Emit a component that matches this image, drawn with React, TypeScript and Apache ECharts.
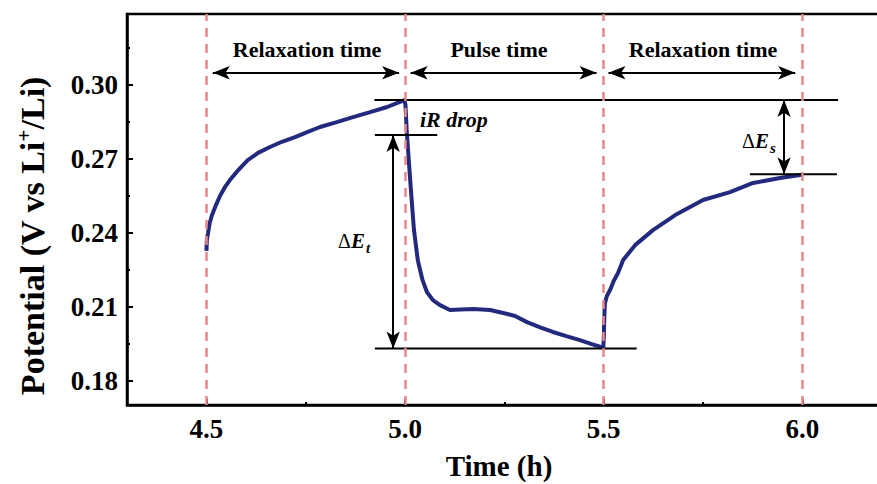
import { useEffect, useRef } from 'react';
import * as echarts from 'echarts';

// Measured curve (time in h, potential in V vs Li+/Li)
const timeH = [
  4.5, 4.501, 4.504, 4.508, 4.514, 4.523, 4.534, 4.546, 4.559, 4.58, 4.604, 4.63, 4.66, 4.69, 4.723, 4.755,
  4.786, 4.828, 4.869, 4.912, 4.955, 4.987, 4.998,
  5.001, 5.004, 5.01, 5.0166, 5.0224, 5.032, 5.044, 5.055, 5.07, 5.088, 5.113, 5.14, 5.171, 5.214, 5.247,
  5.277, 5.307, 5.34, 5.372, 5.406, 5.44, 5.47, 5.499,
  5.5005, 5.501, 5.503, 5.508, 5.516, 5.525, 5.536, 5.549, 5.579, 5.624, 5.68, 5.75, 5.818, 5.876, 5.944,
  5.994, 6.0,
];
const potentialV = [
  0.2328, 0.2372, 0.24, 0.244, 0.2473, 0.251, 0.255, 0.2585, 0.2615, 0.2655, 0.2696, 0.2725, 0.2749, 0.277,
  0.2789, 0.281, 0.283, 0.285, 0.287, 0.289, 0.2911, 0.2932, 0.2939,
  0.292, 0.2818, 0.268, 0.2534, 0.2412, 0.229, 0.2209, 0.2161, 0.2128, 0.2108, 0.2088, 0.209, 0.2092, 0.2088,
  0.2076, 0.2064, 0.2039, 0.2018, 0.1999, 0.1982, 0.1966, 0.195, 0.1935,
  0.1986, 0.2035, 0.2115, 0.2145, 0.2169, 0.2205, 0.2238, 0.2291, 0.2351, 0.2412, 0.2473, 0.2534, 0.2566,
  0.2603, 0.2623, 0.2635, 0.2637,
];

const boundaryTimes = [4.5, 5.0, 5.5, 6.0];
const xTickValues = [4.5, 5.0, 5.5, 6.0];
const xMinorTicks = [4.75, 5.25, 5.75, 6.25];
const yTickValues = [0.18, 0.21, 0.24, 0.27, 0.3];
const yMinorTicks = [0.195, 0.225, 0.255, 0.285, 0.315];

// Horizontal reference lines: level, start, end
const refLevel = [0.2939, 0.2797, 0.1932, 0.2638];
const refStart = [4.923, 4.924, 4.924, 5.868];
const refEnd = [6.09, 5.081, 5.583, 6.087];

// Double arrows: [x, y] start / end
const arrowFrom = [
  [4.516, 0.305],
  [5.014, 0.305],
  [5.512, 0.305],
  [4.97, 0.2797],
  [5.954, 0.2939],
];
const arrowTo = [
  [4.985, 0.305],
  [5.482, 0.305],
  [5.982, 0.305],
  [4.97, 0.1932],
  [5.954, 0.2638],
];

const SERIF = "'Liberation Serif', 'Times New Roman', serif";

export default function App() {
  const ref = useRef<HTMLDivElement>(null);
  useEffect(() => {
    document.body.style.margin = '0';
    const chart = echarts.init(ref.current!, null, { renderer: 'svg' });
    const xMin = 4.3;
    const xMax = 6.3;
    const yMin = 0.1703;
    const yMax = 0.3288;

    const refSeries = refLevel.map((lv, i) => ({
      type: 'line',
      xAxisIndex: 0,
      yAxisIndex: 0,
      data: [
        [refStart[i], lv],
        [refEnd[i], lv],
      ],
      showSymbol: false,
      symbol: 'none',
      lineStyle: { color: '#000', width: 2 },
      z: 3,
      silent: true,
    }));

    const labelFont = { color: '#000', fontFamily: SERIF, fontWeight: 'bold' as const, fontSize: 27 };

    chart.setOption({
      animation: false,
      grid: {
        left: 127,
        top: 14,
        right: -44.5,
        bottom: 79,
        show: true,
        borderColor: '#000',
        borderWidth: 2.5,
        outerBoundsMode: 'none',
        containLabel: false,
      },
      xAxis: [
        {
          type: 'value',
          min: xMin,
          max: xMax,
          position: 'bottom',
          splitLine: { show: false },
          axisLine: { show: true, onZero: false, lineStyle: { color: '#000', width: 2.5 } },
          axisTick: {
            show: true,
            inside: true,
            length: 6,
            customValues: xTickValues,
            lineStyle: { color: '#000', width: 2 },
          },
          axisLabel: {
            show: true,
            customValues: xTickValues,
            formatter: (v: number) => v.toFixed(1),
            margin: 10,
            ...labelFont,
          },
        },
        {
          type: 'value',
          min: xMin,
          max: xMax,
          position: 'bottom',
          splitLine: { show: false },
          axisLine: { show: false, onZero: false },
          axisTick: {
            show: true,
            inside: true,
            length: 3,
            customValues: xMinorTicks,
            lineStyle: { color: '#000', width: 2 },
          },
          axisLabel: { show: false },
        },
      ],
      yAxis: [
        {
          type: 'value',
          min: yMin,
          max: yMax,
          position: 'left',
          splitLine: { show: false },
          axisLine: { show: true, onZero: false, lineStyle: { color: '#000', width: 2.5 } },
          axisTick: {
            show: true,
            inside: true,
            length: 6,
            customValues: yTickValues,
            lineStyle: { color: '#000', width: 2 },
          },
          axisLabel: {
            show: true,
            customValues: yTickValues,
            formatter: (v: number) => v.toFixed(2),
            margin: 9,
            ...labelFont,
          },
        },
        {
          type: 'value',
          min: yMin,
          max: yMax,
          position: 'left',
          splitLine: { show: false },
          axisLine: { show: false, onZero: false },
          axisTick: {
            show: true,
            inside: true,
            length: 3,
            customValues: yMinorTicks,
            lineStyle: { color: '#000', width: 2 },
          },
          axisLabel: { show: false },
        },
      ],
      series: [
        {
          type: 'line',
          xAxisIndex: 0,
          yAxisIndex: 0,
          data: timeH.map((t, i) => [t, potentialV[i]]),
          showSymbol: false,
          symbol: 'none',
          lineStyle: { color: '#232a7e', width: 4 },
          z: 2,
          silent: true,
        },
        ...refSeries,
        {
          type: 'line',
          xAxisIndex: 0,
          yAxisIndex: 0,
          data: [],
          z: 5,
          silent: true,
          markLine: {
            silent: true,
            symbol: ['none', 'none'],
            label: { show: false },
            lineStyle: { color: '#e8878c', type: [9, 7], width: 2.5 },
            emphasis: { disabled: true },
            data: boundaryTimes.map((t) => ({ xAxis: t })),
          },
        },
        {
          type: 'line',
          xAxisIndex: 0,
          yAxisIndex: 0,
          data: [],
          z: 6,
          silent: true,
          markLine: {
            silent: true,
            symbol: ['arrow', 'arrow'],
            symbolSize: [10, 17],
            label: { show: false },
            lineStyle: { color: '#000', type: 'solid', width: 2 },
            itemStyle: { color: '#000' },
            emphasis: { disabled: true },
            data: arrowFrom.map((p, i) => [{ coord: p }, { coord: arrowTo[i] }]),
          },
        },
      ],
      graphic: [
        {
          type: 'text',
          x: 31,
          y: 236,
          rotation: Math.PI / 2,
          style: {
            text: '{a|Potential (V vs Li}{b|+}{a|/Li)}',
            align: 'center',
            verticalAlign: 'middle',
            fill: '#000',
            rich: {
              a: { fontFamily: SERIF, fontWeight: 'bold', fontSize: 34, fill: '#000', verticalAlign: 'bottom' },
              b: {
                fontFamily: SERIF,
                fontWeight: 'bold',
                fontSize: 21,
                fill: '#000',
                verticalAlign: 'bottom',
                padding: [0, 0, 15, 0],
              },
            },
          },
        },
        {
          type: 'text',
          x: 307,
          y: 49,
          style: {
            text: 'Relaxation time',
            font: `bold 22px ${SERIF}`,
            fill: '#000',
            align: 'center',
            verticalAlign: 'middle',
          },
        },
        {
          type: 'text',
          x: 499,
          y: 49,
          style: { text: 'Pulse time', font: `bold 22px ${SERIF}`, fill: '#000', align: 'center', verticalAlign: 'middle' },
        },
        {
          type: 'text',
          x: 703,
          y: 49,
          style: {
            text: 'Relaxation time',
            font: `bold 22px ${SERIF}`,
            fill: '#000',
            align: 'center',
            verticalAlign: 'middle',
          },
        },
        {
          type: 'text',
          x: 420,
          y: 119,
          style: { text: 'iR drop', font: `italic bold 22px ${SERIF}`, fill: '#000', align: 'left', verticalAlign: 'middle' },
        },
        {
          type: 'text',
          x: 338,
          y: 241,
          style: { text: 'Δ', font: `20px ${SERIF}`, fill: '#000', align: 'left', verticalAlign: 'middle' },
        },
        {
          type: 'text',
          x: 351,
          y: 241,
          style: { text: 'E', font: `italic bold 21px ${SERIF}`, fill: '#000', align: 'left', verticalAlign: 'middle' },
        },
        {
          type: 'text',
          x: 366,
          y: 248,
          style: { text: 't', font: `italic bold 15px ${SERIF}`, fill: '#000', align: 'left', verticalAlign: 'middle' },
        },
        {
          type: 'text',
          x: 742,
          y: 141,
          style: { text: 'Δ', font: `20px ${SERIF}`, fill: '#000', align: 'left', verticalAlign: 'middle' },
        },
        {
          type: 'text',
          x: 755,
          y: 141,
          style: { text: 'E', font: `italic bold 21px ${SERIF}`, fill: '#000', align: 'left', verticalAlign: 'middle' },
        },
        {
          type: 'text',
          x: 770,
          y: 148,
          style: { text: 's', font: `italic bold 15px ${SERIF}`, fill: '#000', align: 'left', verticalAlign: 'middle' },
        },
        {
          type: 'text',
          x: 499,
          y: 466,
          style: { text: 'Time (h)', font: `bold 29px ${SERIF}`, fill: '#000', align: 'center', verticalAlign: 'middle' },
        },
      ],
    });
    return () => chart.dispose();
  }, []);
  return <div ref={ref} style={{ width: 877, height: 484 }} />;
}
